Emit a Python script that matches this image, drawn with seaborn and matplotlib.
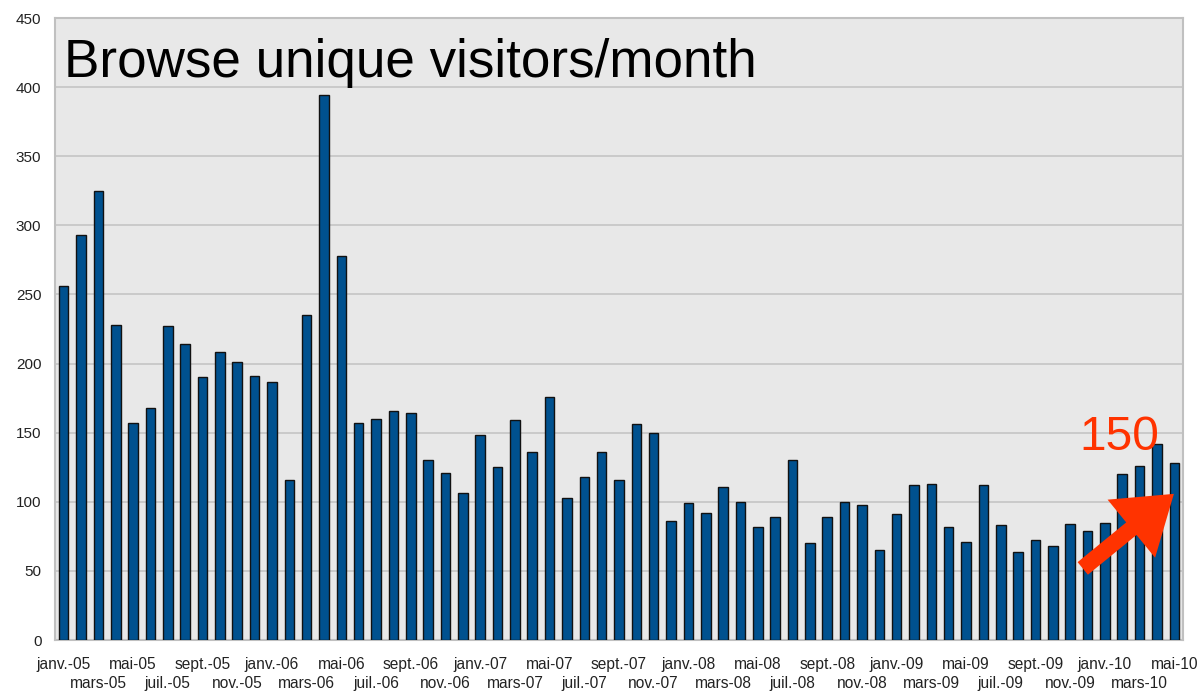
import matplotlib
matplotlib.use("Agg")
import matplotlib.pyplot as plt
import seaborn as sns
import pandas as pd

month_names = ["janv.", "févr.", "mars", "avr.", "mai", "juin",
               "juil.", "août", "sept.", "oct.", "nov.", "déc."]
years = ["05", "06", "07", "08", "09", "10"]
months = [f"{m}-{y}" for y in years for m in month_names][:65]

visitors = [256, 293, 325, 228, 157, 168, 227, 214, 190, 208, 201, 191,
            187, 116, 235, 394, 278, 157, 160, 166, 164, 130, 121, 106,
            148, 125, 159, 136, 176, 103, 118, 136, 116, 156, 150, 86,
            99, 92, 111, 100, 82, 89, 130, 70, 89, 100, 98, 65,
            91, 112, 113, 82, 71, 112, 83, 64, 72, 68, 84, 79,
            85, 120, 126, 142, 128]

title = "Browse unique visitors/month"
note = "150"
y_ticks = [0, 50, 100, 150, 200, 250, 300, 350, 400, 450]

sns.set_theme(style="white")
plt.rcParams['font.family'] = ['Liberation Sans', 'DejaVu Sans']

df = pd.DataFrame({"month": months, "visitors": visitors})

fig = plt.figure(figsize=(12.01, 6.93), dpi=100)
ax = fig.add_axes([55/1201, 53/693, (1183-55)/1201, (640-18)/693])
ax.set_facecolor("#e8e8e8")

sns.barplot(data=df, x="month", y="visitors", order=months, color="#00518f",
            saturation=1, edgecolor="#111111", linewidth=1.0, width=0.55, ax=ax,
            zorder=3)
ax.set_xlim(-0.5, len(months) - 0.5)
ax.set_ylim(0, 450)
ax.set_yticks(y_ticks)
ax.set_yticklabels([str(t) for t in y_ticks], fontsize=11, color="#222222")
ax.yaxis.grid(True, color="#c4c4c4", linewidth=1.2, zorder=0)
ax.set_axisbelow(True)
ax.set_xlabel("")
ax.set_ylabel("")

# x labels: every other month, alternating rows, drawn as text under the axis
ax.set_xticks([])
ax.set_xticks([i - 0.5 for i in range(len(months) + 1)], minor=True)
ax.tick_params(axis="x", which="minor", length=5.8, color="#b0b0b0", width=1,
               labelbottom=False)
ax.tick_params(axis="y", which="major", length=5.8, color="#b0b0b0", width=1, pad=4)
xt = ax.get_xaxis_transform()
for k, i in enumerate(range(0, len(months), 2)):
    yy = -0.0275 if k % 2 == 0 else -0.058
    ax.text(i, yy, months[i], transform=xt, ha="center", va="top",
            fontsize=11.2, color="#222222")

for s in ax.spines.values():
    s.set_color("#c0c0c0")
    s.set_linewidth(1.5)
    s.set_visible(True)

ax.text(0.0, 407, title, fontsize=38.2, color="black", ha="left", va="baseline")

ax.annotate("", xy=(64.1, 107), xytext=(58.6, 50.5),
            arrowprops=dict(arrowstyle="simple,head_length=2.2,head_width=3.0,tail_width=0.65",
                            color="#ff3300", lw=0, mutation_scale=18), zorder=5)
ax.text(58.5, 137.5, note, fontsize=34.5, color="#ff3300", ha="left", va="baseline", zorder=5)

fig.savefig("out.png", dpi=100, facecolor="white")
